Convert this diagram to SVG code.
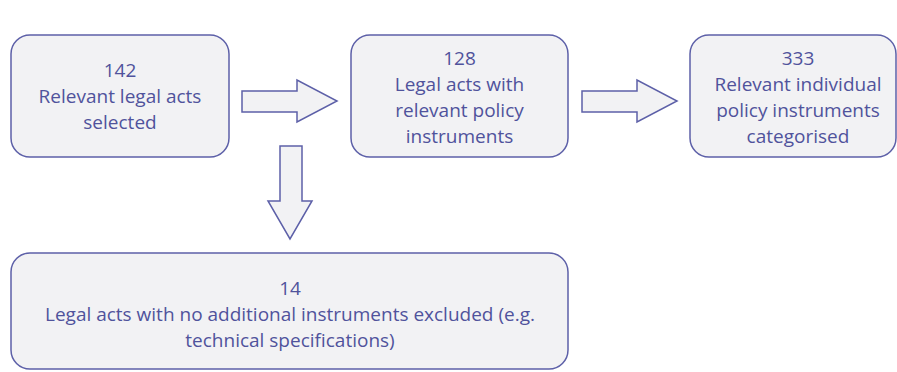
<svg xmlns="http://www.w3.org/2000/svg" width="897" height="372" viewBox="0 0 897 372">
<style>
.box{fill:#f2f2f4;stroke:#5d60a8;stroke-width:1.5}
.arr{fill:#f2f2f4;stroke:#5d60a8;stroke-width:1.5;stroke-linejoin:miter}
text{font-family:"Open Sans","Noto Sans",sans-serif;font-size:19px;fill:#50539c;text-anchor:middle}
</style>
<rect width="897" height="372" fill="#ffffff"/>
<g id="n142">
<rect class="box" x="11" y="35" width="218" height="122" rx="19"/>
<text x="120" y="77">142</text>
<text x="120" y="103">Relevant legal acts</text>
<text x="120" y="129">selected</text>
</g>
<g id="n128">
<rect class="box" x="351" y="35" width="217" height="122" rx="19"/>
<text x="459.5" y="65">128</text>
<text x="459.5" y="91">Legal acts with</text>
<text x="459.5" y="117">relevant policy</text>
<text x="459.5" y="143">instruments</text>
</g>
<g id="n333">
<rect class="box" x="690" y="35" width="206" height="122" rx="19"/>
<text x="798" y="65">333</text>
<text x="798" y="91">Relevant individual</text>
<text x="798" y="117">policy instruments</text>
<text x="798" y="143">categorised</text>
</g>
<g id="n14">
<rect class="box" x="11" y="253" width="557" height="116" rx="19"/>
<text x="290" y="295">14</text>
<text x="290" y="321">Legal acts with no additional instruments excluded (e.g.</text>
<text x="290" y="347">technical specifications)</text>
</g>
<g id="connectors">
<polygon class="arr" points="242,91 297,91 297,80 337,101 297,122 297,112 242,112"/>
<polygon class="arr" points="582,91 637,91 637,80 677,101 637,122 637,112 582,112"/>
<polygon class="arr" points="280,146 302,146 302,201 312,201 290,239 268,201 280,201"/>
</g>
</svg>
